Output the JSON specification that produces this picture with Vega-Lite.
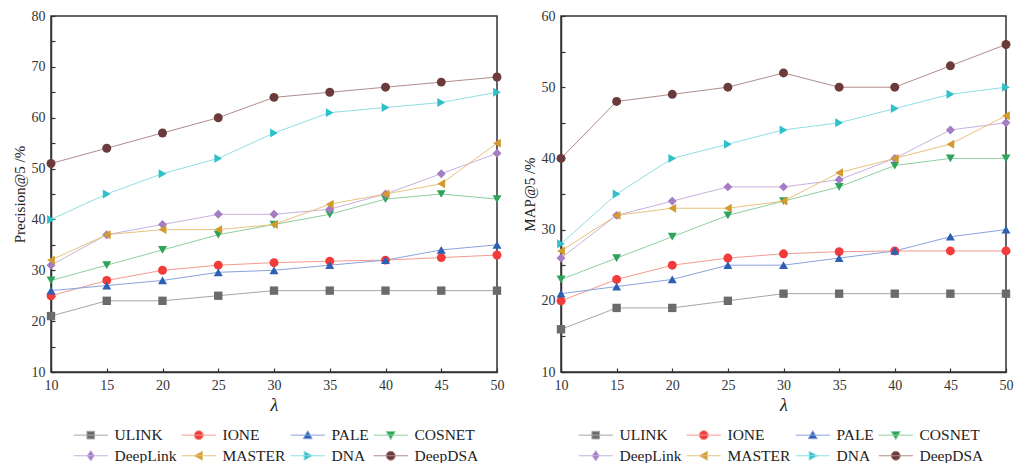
{
  "$schema": "https://vega.github.io/schema/vega-lite/v6.json",
  "padding": {"left": 11, "top": 8, "right": 2, "bottom": 2},
  "spacing": 12,
  "datasets": {
    "d": [
      {"metric":"P","lambda":10,"method":"ULINK","value":21},{"metric":"P","lambda":15,"method":"ULINK","value":24},{"metric":"P","lambda":20,"method":"ULINK","value":24},{"metric":"P","lambda":25,"method":"ULINK","value":25},{"metric":"P","lambda":30,"method":"ULINK","value":26},{"metric":"P","lambda":35,"method":"ULINK","value":26},{"metric":"P","lambda":40,"method":"ULINK","value":26},{"metric":"P","lambda":45,"method":"ULINK","value":26},{"metric":"P","lambda":50,"method":"ULINK","value":26},
      {"metric":"P","lambda":10,"method":"IONE","value":25},{"metric":"P","lambda":15,"method":"IONE","value":28},{"metric":"P","lambda":20,"method":"IONE","value":30},{"metric":"P","lambda":25,"method":"IONE","value":31},{"metric":"P","lambda":30,"method":"IONE","value":31.5},{"metric":"P","lambda":35,"method":"IONE","value":31.8},{"metric":"P","lambda":40,"method":"IONE","value":32},{"metric":"P","lambda":45,"method":"IONE","value":32.5},{"metric":"P","lambda":50,"method":"IONE","value":33},
      {"metric":"P","lambda":10,"method":"PALE","value":26},{"metric":"P","lambda":15,"method":"PALE","value":27},{"metric":"P","lambda":20,"method":"PALE","value":28},{"metric":"P","lambda":25,"method":"PALE","value":29.6},{"metric":"P","lambda":30,"method":"PALE","value":30},{"metric":"P","lambda":35,"method":"PALE","value":31},{"metric":"P","lambda":40,"method":"PALE","value":32},{"metric":"P","lambda":45,"method":"PALE","value":34},{"metric":"P","lambda":50,"method":"PALE","value":35},
      {"metric":"P","lambda":10,"method":"COSNET","value":28},{"metric":"P","lambda":15,"method":"COSNET","value":31},{"metric":"P","lambda":20,"method":"COSNET","value":34},{"metric":"P","lambda":25,"method":"COSNET","value":37},{"metric":"P","lambda":30,"method":"COSNET","value":39},{"metric":"P","lambda":35,"method":"COSNET","value":41},{"metric":"P","lambda":40,"method":"COSNET","value":44},{"metric":"P","lambda":45,"method":"COSNET","value":45},{"metric":"P","lambda":50,"method":"COSNET","value":44},
      {"metric":"P","lambda":10,"method":"DeepLink","value":31},{"metric":"P","lambda":15,"method":"DeepLink","value":37},{"metric":"P","lambda":20,"method":"DeepLink","value":39},{"metric":"P","lambda":25,"method":"DeepLink","value":41},{"metric":"P","lambda":30,"method":"DeepLink","value":41},{"metric":"P","lambda":35,"method":"DeepLink","value":42},{"metric":"P","lambda":40,"method":"DeepLink","value":45},{"metric":"P","lambda":45,"method":"DeepLink","value":49},{"metric":"P","lambda":50,"method":"DeepLink","value":53},
      {"metric":"P","lambda":10,"method":"MASTER","value":32},{"metric":"P","lambda":15,"method":"MASTER","value":37},{"metric":"P","lambda":20,"method":"MASTER","value":38},{"metric":"P","lambda":25,"method":"MASTER","value":38},{"metric":"P","lambda":30,"method":"MASTER","value":39},{"metric":"P","lambda":35,"method":"MASTER","value":43},{"metric":"P","lambda":40,"method":"MASTER","value":45},{"metric":"P","lambda":45,"method":"MASTER","value":47},{"metric":"P","lambda":50,"method":"MASTER","value":55},
      {"metric":"P","lambda":10,"method":"DNA","value":40},{"metric":"P","lambda":15,"method":"DNA","value":45},{"metric":"P","lambda":20,"method":"DNA","value":49},{"metric":"P","lambda":25,"method":"DNA","value":52},{"metric":"P","lambda":30,"method":"DNA","value":57},{"metric":"P","lambda":35,"method":"DNA","value":61},{"metric":"P","lambda":40,"method":"DNA","value":62},{"metric":"P","lambda":45,"method":"DNA","value":63},{"metric":"P","lambda":50,"method":"DNA","value":65},
      {"metric":"P","lambda":10,"method":"DeepDSA","value":51},{"metric":"P","lambda":15,"method":"DeepDSA","value":54},{"metric":"P","lambda":20,"method":"DeepDSA","value":57},{"metric":"P","lambda":25,"method":"DeepDSA","value":60},{"metric":"P","lambda":30,"method":"DeepDSA","value":64},{"metric":"P","lambda":35,"method":"DeepDSA","value":65},{"metric":"P","lambda":40,"method":"DeepDSA","value":66},{"metric":"P","lambda":45,"method":"DeepDSA","value":67},{"metric":"P","lambda":50,"method":"DeepDSA","value":68},
      {"metric":"M","lambda":10,"method":"ULINK","value":16},{"metric":"M","lambda":15,"method":"ULINK","value":19},{"metric":"M","lambda":20,"method":"ULINK","value":19},{"metric":"M","lambda":25,"method":"ULINK","value":20},{"metric":"M","lambda":30,"method":"ULINK","value":21},{"metric":"M","lambda":35,"method":"ULINK","value":21},{"metric":"M","lambda":40,"method":"ULINK","value":21},{"metric":"M","lambda":45,"method":"ULINK","value":21},{"metric":"M","lambda":50,"method":"ULINK","value":21},
      {"metric":"M","lambda":10,"method":"IONE","value":20},{"metric":"M","lambda":15,"method":"IONE","value":23},{"metric":"M","lambda":20,"method":"IONE","value":25},{"metric":"M","lambda":25,"method":"IONE","value":26},{"metric":"M","lambda":30,"method":"IONE","value":26.6},{"metric":"M","lambda":35,"method":"IONE","value":26.9},{"metric":"M","lambda":40,"method":"IONE","value":27},{"metric":"M","lambda":45,"method":"IONE","value":27},{"metric":"M","lambda":50,"method":"IONE","value":27},
      {"metric":"M","lambda":10,"method":"PALE","value":21},{"metric":"M","lambda":15,"method":"PALE","value":22},{"metric":"M","lambda":20,"method":"PALE","value":23},{"metric":"M","lambda":25,"method":"PALE","value":25},{"metric":"M","lambda":30,"method":"PALE","value":25},{"metric":"M","lambda":35,"method":"PALE","value":26},{"metric":"M","lambda":40,"method":"PALE","value":27},{"metric":"M","lambda":45,"method":"PALE","value":29},{"metric":"M","lambda":50,"method":"PALE","value":30},
      {"metric":"M","lambda":10,"method":"COSNET","value":23},{"metric":"M","lambda":15,"method":"COSNET","value":26},{"metric":"M","lambda":20,"method":"COSNET","value":29},{"metric":"M","lambda":25,"method":"COSNET","value":32},{"metric":"M","lambda":30,"method":"COSNET","value":34},{"metric":"M","lambda":35,"method":"COSNET","value":36},{"metric":"M","lambda":40,"method":"COSNET","value":39},{"metric":"M","lambda":45,"method":"COSNET","value":40},{"metric":"M","lambda":50,"method":"COSNET","value":40},
      {"metric":"M","lambda":10,"method":"DeepLink","value":26},{"metric":"M","lambda":15,"method":"DeepLink","value":32},{"metric":"M","lambda":20,"method":"DeepLink","value":34},{"metric":"M","lambda":25,"method":"DeepLink","value":36},{"metric":"M","lambda":30,"method":"DeepLink","value":36},{"metric":"M","lambda":35,"method":"DeepLink","value":37},{"metric":"M","lambda":40,"method":"DeepLink","value":40},{"metric":"M","lambda":45,"method":"DeepLink","value":44},{"metric":"M","lambda":50,"method":"DeepLink","value":45},
      {"metric":"M","lambda":10,"method":"MASTER","value":27},{"metric":"M","lambda":15,"method":"MASTER","value":32},{"metric":"M","lambda":20,"method":"MASTER","value":33},{"metric":"M","lambda":25,"method":"MASTER","value":33},{"metric":"M","lambda":30,"method":"MASTER","value":34},{"metric":"M","lambda":35,"method":"MASTER","value":38},{"metric":"M","lambda":40,"method":"MASTER","value":40},{"metric":"M","lambda":45,"method":"MASTER","value":42},{"metric":"M","lambda":50,"method":"MASTER","value":46},
      {"metric":"M","lambda":10,"method":"DNA","value":28},{"metric":"M","lambda":15,"method":"DNA","value":35},{"metric":"M","lambda":20,"method":"DNA","value":40},{"metric":"M","lambda":25,"method":"DNA","value":42},{"metric":"M","lambda":30,"method":"DNA","value":44},{"metric":"M","lambda":35,"method":"DNA","value":45},{"metric":"M","lambda":40,"method":"DNA","value":47},{"metric":"M","lambda":45,"method":"DNA","value":49},{"metric":"M","lambda":50,"method":"DNA","value":50},
      {"metric":"M","lambda":10,"method":"DeepDSA","value":40},{"metric":"M","lambda":15,"method":"DeepDSA","value":48},{"metric":"M","lambda":20,"method":"DeepDSA","value":49},{"metric":"M","lambda":25,"method":"DeepDSA","value":50},{"metric":"M","lambda":30,"method":"DeepDSA","value":52},{"metric":"M","lambda":35,"method":"DeepDSA","value":50},{"metric":"M","lambda":40,"method":"DeepDSA","value":50},{"metric":"M","lambda":45,"method":"DeepDSA","value":53},{"metric":"M","lambda":50,"method":"DeepDSA","value":56}
    ]
  },
  "hconcat": [
    {
      "width": 446, "height": 356,
      "data": {"name": "d"},
      "transform": [{"filter": "datum.metric === 'P'"}],
      "encoding": {
        "x": {"field": "lambda", "type": "quantitative", "title": "λ", "scale": {"domain": [10, 50], "nice": false}, "axis": {"values": [10,15,20,25,30,35,40,45,50]}},
        "y": {"field": "value", "type": "quantitative", "title": "Precision@5 /%", "scale": {"domain": [10, 80], "nice": false}, "axis": {"values": [10,15,20,25,30,35,40,45,50,55,60,65,70,75,80], "labelExpr": "datum.value % 10 === 0 ? datum.label : ''"}},
        "color": {"field": "method", "type": "nominal", "scale": {"domain": ["ULINK","IONE","PALE","COSNET","DeepLink","MASTER","DNA","DeepDSA"], "range": ["#6b6b6b","#f23c3c","#2d5fb3","#2ea35a","#a47dc4","#d39a2c","#2fc0c9","#6b3b3b"]}, "legend": {"orient": "none", "legendX": 24, "legendY": 411, "columns": 4, "direction": "horizontal", "title": null}}
      },
      "layer": [
        {"mark": {"type": "line", "strokeWidth": 1}, "encoding": {"color": null, "stroke": {"field": "method", "type": "nominal", "scale": {"domain": ["ULINK","IONE","PALE","COSNET","DeepLink","MASTER","DNA","DeepDSA"], "range": ["#a6a6a6","#f59b8f","#8aa3de","#8fcf9e","#c9b0e0","#e8c37c","#8fdfe4","#b28c8c"]}, "legend": {"orient": "none", "legendX": 24, "legendY": 411, "columns": 4, "direction": "horizontal", "title": null}}, "detail": {"field": "method"}}},
        {"transform": [{"filter": "datum.method === 'ULINK'"}], "mark": {"type": "point", "filled": true, "size": 70, "shape": "square", "opacity": 1}},
        {"transform": [{"filter": "datum.method === 'IONE'"}], "mark": {"type": "point", "filled": true, "size": 80, "shape": "circle", "opacity": 1}},
        {"transform": [{"filter": "datum.method === 'PALE'"}], "mark": {"type": "point", "filled": true, "size": 80, "shape": "triangle-up", "opacity": 1}},
        {"transform": [{"filter": "datum.method === 'COSNET'"}], "mark": {"type": "point", "filled": true, "size": 80, "shape": "triangle-down", "opacity": 1}},
        {"transform": [{"filter": "datum.method === 'DeepLink'"}], "mark": {"type": "point", "filled": true, "size": 80, "shape": "diamond", "opacity": 1}},
        {"transform": [{"filter": "datum.method === 'MASTER'"}], "mark": {"type": "point", "filled": true, "size": 80, "shape": "triangle-left", "opacity": 1}},
        {"transform": [{"filter": "datum.method === 'DNA'"}], "mark": {"type": "point", "filled": true, "size": 80, "shape": "triangle-right", "opacity": 1}},
        {"transform": [{"filter": "datum.method === 'DeepDSA'"}], "mark": {"type": "point", "filled": true, "size": 80, "shape": "circle", "opacity": 1}},
        {"mark": {"type": "point", "filled": true, "opacity": 0},
         "encoding": {"shape": {"field": "method", "type": "nominal", "scale": {"domain": ["ULINK","IONE","PALE","COSNET","DeepLink","MASTER","DNA","DeepDSA"], "range": ["M-3.8,0H3.8M-0.85,-0.85H0.85V0.85H-0.85Z","M-3.8,0H3.8M-1,0A1,1,0,1,0,1,0A1,1,0,1,0,-1,0Z","M-3.8,0H3.8M0,-1L1,0.8H-1Z","M-3.8,0H3.8M0,1L1,-0.8H-1Z","M-3.8,0H3.8M0,-1.15L0.8,0L0,1.15L-0.8,0Z","M-3.8,0H3.8M-1,0L0.8,-1V1Z","M-3.8,0H3.8M1,0L-0.8,-1V1Z","M-3.8,0H3.8M-1,0A1,1,0,1,0,1,0A1,1,0,1,0,-1,0Z"]}, "legend": {"orient": "none", "legendX": 24, "legendY": 411, "columns": 4, "direction": "horizontal", "title": null}}}}
      ]
    },
    {
      "width": 445, "height": 356,
      "data": {"name": "d"},
      "transform": [{"filter": "datum.metric === 'M'"}],
      "encoding": {
        "x": {"field": "lambda", "type": "quantitative", "title": "λ", "scale": {"domain": [10, 50], "nice": false}, "axis": {"values": [10,15,20,25,30,35,40,45,50]}},
        "y": {"field": "value", "type": "quantitative", "title": "MAP@5 /%", "scale": {"domain": [10, 60], "nice": false}, "axis": {"values": [10,15,20,25,30,35,40,45,50,55,60], "labelExpr": "datum.value % 10 === 0 ? datum.label : ''"}},
        "color": {"field": "method", "type": "nominal", "scale": {"domain": ["ULINK","IONE","PALE","COSNET","DeepLink","MASTER","DNA","DeepDSA"], "range": ["#6b6b6b","#f23c3c","#2d5fb3","#2ea35a","#a47dc4","#d39a2c","#2fc0c9","#6b3b3b"]}, "legend": {"orient": "none", "legendX": 19, "legendY": 411, "columns": 4, "direction": "horizontal", "title": null}}
      },
      "layer": [
        {"mark": {"type": "line", "strokeWidth": 1}, "encoding": {"color": null, "stroke": {"field": "method", "type": "nominal", "scale": {"domain": ["ULINK","IONE","PALE","COSNET","DeepLink","MASTER","DNA","DeepDSA"], "range": ["#a6a6a6","#f59b8f","#8aa3de","#8fcf9e","#c9b0e0","#e8c37c","#8fdfe4","#b28c8c"]}, "legend": {"orient": "none", "legendX": 19, "legendY": 411, "columns": 4, "direction": "horizontal", "title": null}}, "detail": {"field": "method"}}},
        {"transform": [{"filter": "datum.method === 'ULINK'"}], "mark": {"type": "point", "filled": true, "size": 70, "shape": "square", "opacity": 1}},
        {"transform": [{"filter": "datum.method === 'IONE'"}], "mark": {"type": "point", "filled": true, "size": 80, "shape": "circle", "opacity": 1}},
        {"transform": [{"filter": "datum.method === 'PALE'"}], "mark": {"type": "point", "filled": true, "size": 80, "shape": "triangle-up", "opacity": 1}},
        {"transform": [{"filter": "datum.method === 'COSNET'"}], "mark": {"type": "point", "filled": true, "size": 80, "shape": "triangle-down", "opacity": 1}},
        {"transform": [{"filter": "datum.method === 'DeepLink'"}], "mark": {"type": "point", "filled": true, "size": 80, "shape": "diamond", "opacity": 1}},
        {"transform": [{"filter": "datum.method === 'MASTER'"}], "mark": {"type": "point", "filled": true, "size": 80, "shape": "triangle-left", "opacity": 1}},
        {"transform": [{"filter": "datum.method === 'DNA'"}], "mark": {"type": "point", "filled": true, "size": 80, "shape": "triangle-right", "opacity": 1}},
        {"transform": [{"filter": "datum.method === 'DeepDSA'"}], "mark": {"type": "point", "filled": true, "size": 80, "shape": "circle", "opacity": 1}},
        {"mark": {"type": "point", "filled": true, "opacity": 0},
         "encoding": {"shape": {"field": "method", "type": "nominal", "scale": {"domain": ["ULINK","IONE","PALE","COSNET","DeepLink","MASTER","DNA","DeepDSA"], "range": ["M-3.8,0H3.8M-0.85,-0.85H0.85V0.85H-0.85Z","M-3.8,0H3.8M-1,0A1,1,0,1,0,1,0A1,1,0,1,0,-1,0Z","M-3.8,0H3.8M0,-1L1,0.8H-1Z","M-3.8,0H3.8M0,1L1,-0.8H-1Z","M-3.8,0H3.8M0,-1.15L0.8,0L0,1.15L-0.8,0Z","M-3.8,0H3.8M-1,0L0.8,-1V1Z","M-3.8,0H3.8M1,0L-0.8,-1V1Z","M-3.8,0H3.8M-1,0A1,1,0,1,0,1,0A1,1,0,1,0,-1,0Z"]}, "legend": {"orient": "none", "legendX": 19, "legendY": 411, "columns": 4, "direction": "horizontal", "title": null}}}}
      ]
    }
  ],
  "resolve": {"scale": {"color": "independent", "shape": "independent", "stroke": "independent"}, "legend": {"color": "independent", "shape": "independent", "stroke": "independent"}},
  "config": {
    "font": "Liberation Serif",
    "view": {"stroke": "#333333", "strokeWidth": 1.5},
    "axis": {
      "grid": false,
      "domainColor": "#333333", "domainWidth": 1.5,
      "tickColor": "#333333", "tickWidth": 1.2, "tickSize": -4,
      "labelFont": "Liberation Serif", "labelFontSize": 14, "labelColor": "#333333",
      "titleFont": "Liberation Serif", "titleFontWeight": "normal", "titleColor": "#222222"
    },
    "axisX": {"labelPadding": 10, "titleFontSize": 18, "titleFontStyle": "italic", "titlePadding": 4, "labelFlush": false},
    "axisY": {"labelPadding": 10, "titleFontSize": 15, "titlePadding": 4},
    "legend": {
      "labelFont": "Liberation Serif", "labelFontSize": 15.5, "labelColor": "#222222",
      "symbolSize": 81, "symbolOffset": 8, "labelOffset": 16, "columnPadding": 2, "rowPadding": 4,
      "symbolStrokeWidth": 1, "symbolOpacity": 1,
      "gridAlign": "each"
    }
  }
}
